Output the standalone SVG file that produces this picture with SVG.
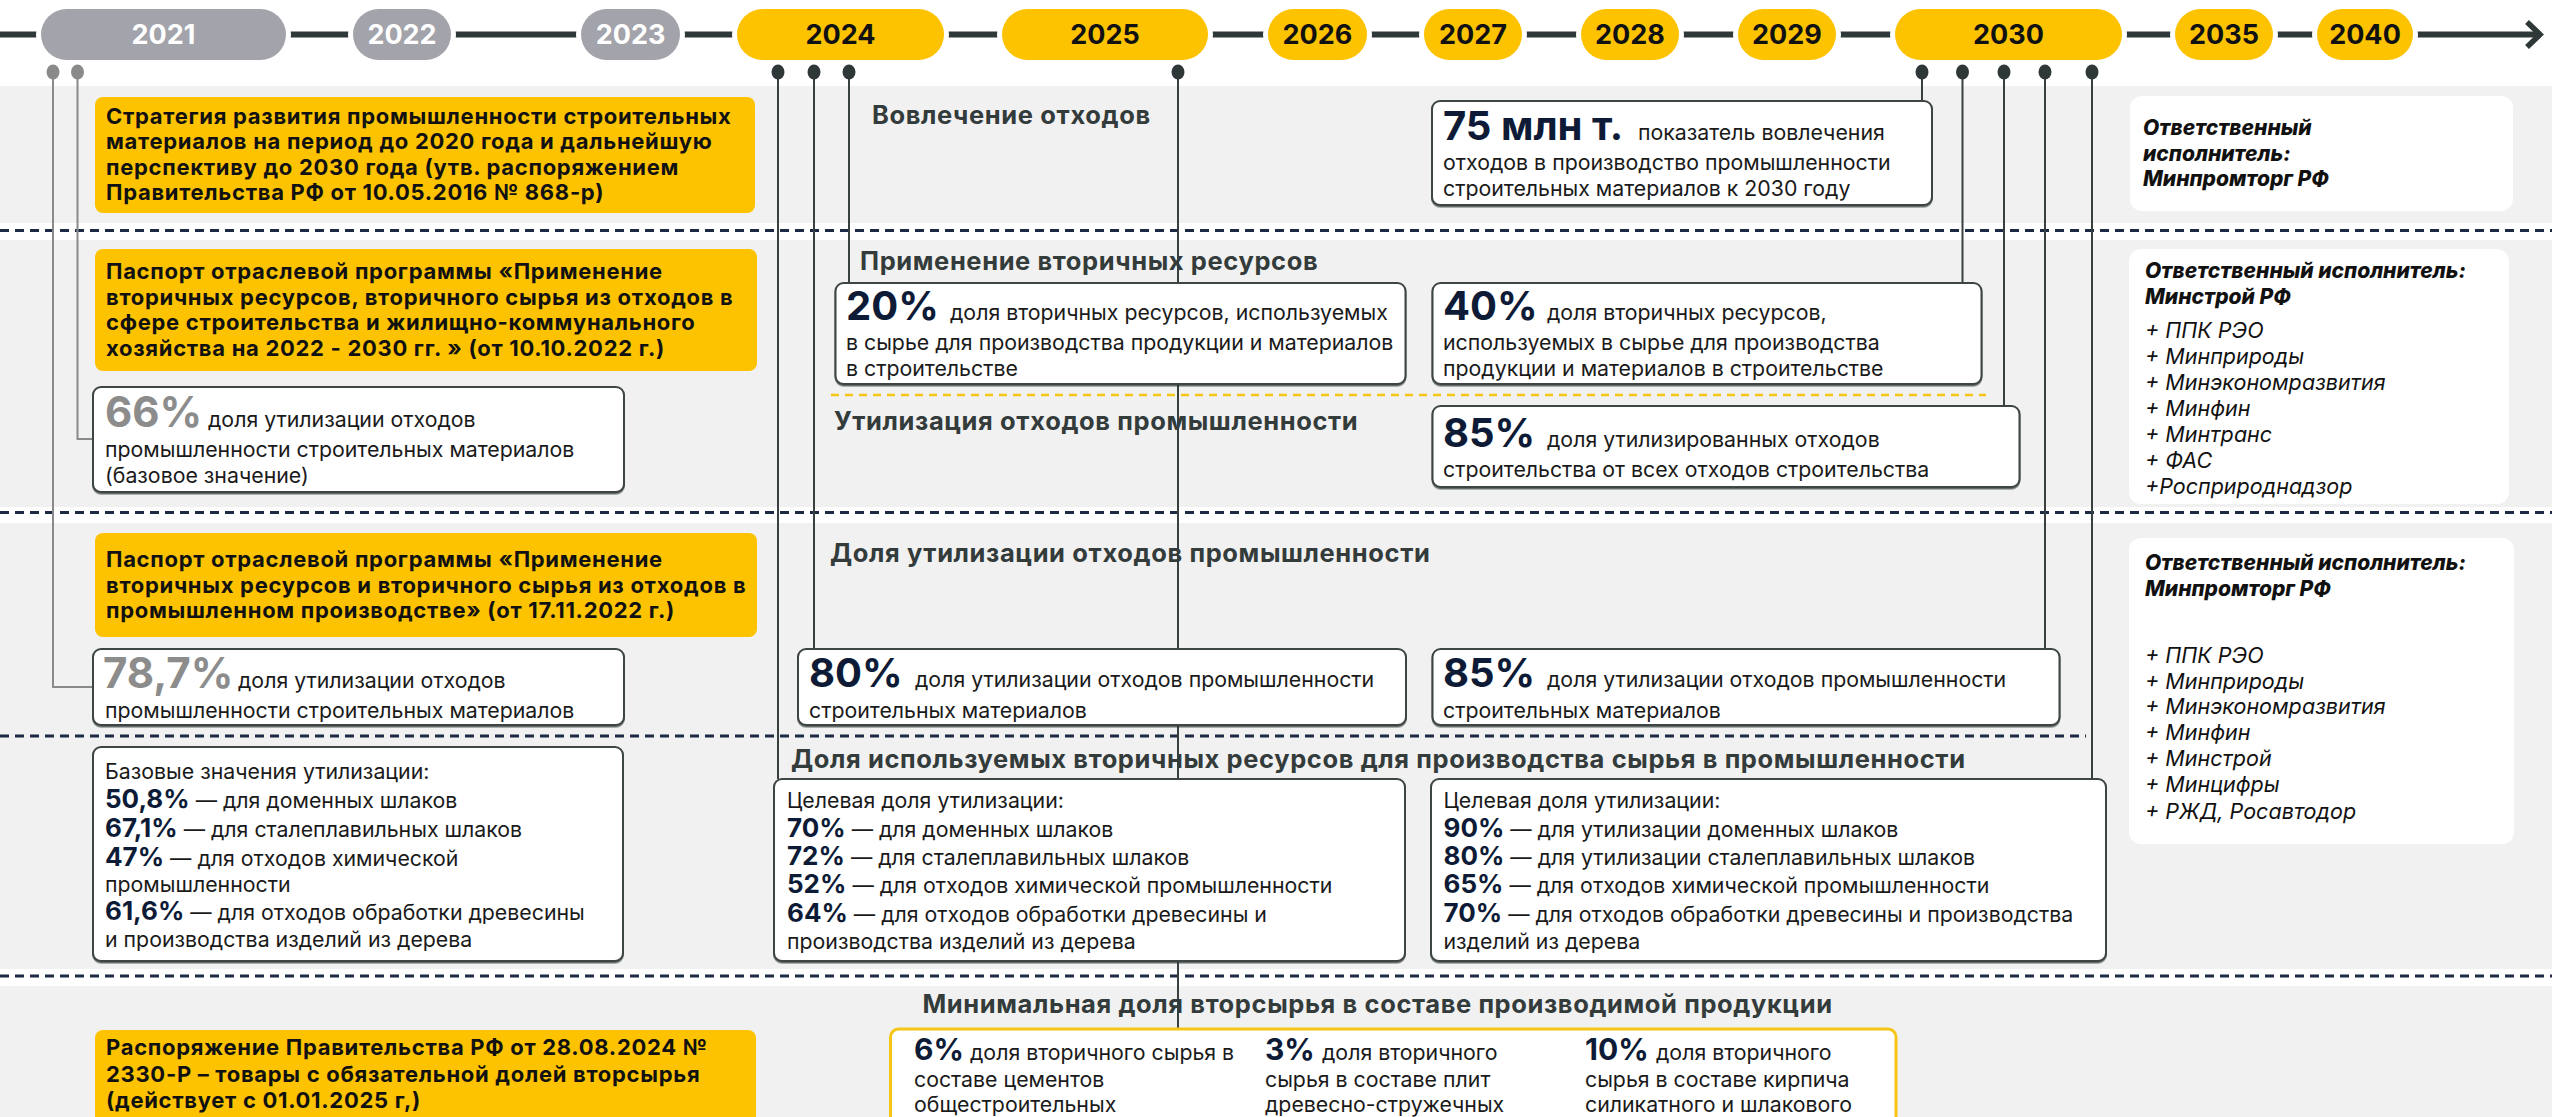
<svg xmlns="http://www.w3.org/2000/svg" width="2552" height="1117" viewBox="0 0 2552 1117">
<defs>
<filter id="sh" x="-5%" y="-5%" width="110%" height="120%">
<feDropShadow dx="0" dy="1.5" stdDeviation="0.6" flood-color="#2a3030" flood-opacity="0.7"/>
</filter>
</defs>
<style>
text{font-family:Inter,"Noto Sans",sans-serif}
.yr{font-size:27px;font-weight:700;text-anchor:middle}
.yw{fill:#fff}.yk{fill:#111}
.pg{fill:#a3a3ab;stroke:#fff;stroke-width:10;paint-order:stroke}
.py{fill:#fdc300;stroke:#fff;stroke-width:10;paint-order:stroke}
.band{fill:#f1f1f1}
.dl{stroke:#1c2a44;stroke-width:3;stroke-dasharray:9 6;fill:none}
.ydl{stroke:#f5c518;stroke-width:2.5;stroke-dasharray:8 6;fill:none}
.cn{stroke:#394040;stroke-width:2;fill:none}
.cg{stroke:#8a8a8a;stroke-width:2;fill:none}
.dk{fill:#2f3838}.dg{fill:#8a8a8a}
.yb{fill:#fdc300}
.yt{font-size:22px;font-weight:700;fill:#111;letter-spacing:0.7px}
.wb{fill:#fff;stroke:#3d4444;stroke-width:2;filter:url(#sh)}
.mb{fill:#fff;stroke:#f5c518;stroke-width:3}
.hd{font-size:25.5px;font-weight:700;fill:#333b3b;letter-spacing:0.6px}
.t{font-size:21.3px;fill:#1a1a1a}
.big{font-size:40px;font-weight:700;fill:#0d1b36}
.gb{font-size:42px;font-weight:700;fill:#8c8c8c}
.num{font-size:26px;font-weight:700;fill:#0d1b36}
.n30{font-size:30px;font-weight:700;fill:#0d1b36}
.rpb{fill:#fff}
.rh{font-size:21px;font-weight:800;font-style:italic;fill:#111}
.ri{font-size:21.5px;font-style:italic;fill:#111}
</style>

<!-- background bands -->
<rect class="band" x="0" y="86" width="2552" height="137"/>
<rect class="band" x="0" y="240" width="2552" height="267"/>
<rect class="band" x="0" y="523" width="2552" height="446"/>
<rect class="band" x="0" y="986" width="2552" height="131"/>
<path class="dl" d="M0 230.5H2552M0 512.5H2552M0 976H2552M0 736H2086"/>
<path class="ydl" d="M831 395H1986"/>

<!-- timeline -->
<g id="timeline">
<line x1="0" y1="34.5" x2="2537" y2="34.5" stroke="#2f3838" stroke-width="6"/>
<polyline points="2527,22 2540,34.5 2527,47" fill="none" stroke="#2f3838" stroke-width="5.5" stroke-linejoin="miter"/>
<rect class="pg" x="41" y="9" width="245" height="51" rx="25.5"/><text class="yr yw" x="163.5" y="44">2021</text>
<rect class="pg" x="353" y="9" width="98" height="51" rx="25.5"/><text class="yr yw" x="402" y="44">2022</text>
<rect class="pg" x="581" y="9" width="99" height="51" rx="25.5"/><text class="yr yw" x="630.5" y="44">2023</text>
<rect class="py" x="737" y="9" width="207" height="51" rx="25.5"/><text class="yr yk" x="840.5" y="44">2024</text>
<rect class="py" x="1002" y="9" width="206" height="51" rx="25.5"/><text class="yr yk" x="1105" y="44">2025</text>
<rect class="py" x="1268" y="9" width="99" height="51" rx="25.5"/><text class="yr yk" x="1317.5" y="44">2026</text>
<rect class="py" x="1424" y="9" width="98" height="51" rx="25.5"/><text class="yr yk" x="1473" y="44">2027</text>
<rect class="py" x="1581" y="9" width="98" height="51" rx="25.5"/><text class="yr yk" x="1630" y="44">2028</text>
<rect class="py" x="1738" y="9" width="98" height="51" rx="25.5"/><text class="yr yk" x="1787" y="44">2029</text>
<rect class="py" x="1895" y="9" width="227" height="51" rx="25.5"/><text class="yr yk" x="2008.5" y="44">2030</text>
<rect class="py" x="2175" y="9" width="98" height="51" rx="25.5"/><text class="yr yk" x="2224" y="44">2035</text>
<rect class="py" x="2317" y="9" width="96" height="51" rx="25.5"/><text class="yr yk" x="2365" y="44">2040</text>
</g>

<!-- connectors -->
<g id="connectors">
<path class="cg" d="M53 72V687H93M77.5 72V439H93"/>
<path class="cn" d="M778 72V779M814 72V649M849 72V283M1178 72V1029M1922 72V101M1962.5 72V283M2004 72V406M2045 72V649M2092 72V779"/>
<ellipse class="dg" cx="53" cy="72" rx="6.5" ry="7.5"/>
<ellipse class="dg" cx="77.5" cy="72" rx="6.5" ry="7.5"/>
<ellipse class="dk" cx="778" cy="72" rx="6.5" ry="7.5"/>
<ellipse class="dk" cx="814" cy="72" rx="6.5" ry="7.5"/>
<ellipse class="dk" cx="849" cy="72" rx="6.5" ry="7.5"/>
<ellipse class="dk" cx="1178" cy="72" rx="6.5" ry="7.5"/>
<ellipse class="dk" cx="1922" cy="72" rx="6.5" ry="7.5"/>
<ellipse class="dk" cx="1962.5" cy="72" rx="6.5" ry="7.5"/>
<ellipse class="dk" cx="2004" cy="72" rx="6.5" ry="7.5"/>
<ellipse class="dk" cx="2045" cy="72" rx="6.5" ry="7.5"/>
<ellipse class="dk" cx="2092" cy="72" rx="6.5" ry="7.5"/>
</g>

<!-- left column -->
<g id="doc-strategy">
<rect class="yb" x="95" y="97" width="660" height="116" rx="8"/>
<text class="yt" x="106" y="124">Стратегия развития промышленности строительных</text>
<text class="yt" x="106" y="149">материалов на период до 2020 года и дальнейшую</text>
<text class="yt" x="106" y="174.5">перспективу до 2030 года (утв. распоряжением</text>
<text class="yt" x="106" y="200">Правительства РФ от 10.05.2016 № 868-р)</text>
</g>
<g id="doc-passport-construction">
<rect class="yb" x="95" y="249" width="662" height="122" rx="8"/>
<text class="yt" x="106" y="279">Паспорт отраслевой программы «Применение</text>
<text class="yt" x="106" y="305">вторичных ресурсов, вторичного сырья из отходов в</text>
<text class="yt" x="106" y="330">сфере строительства и жилищно-коммунального</text>
<text class="yt" x="106" y="356">хозяйства на 2022 - 2030 гг. » (от 10.10.2022 г.)</text>
</g>
<g id="base-66">
<rect class="wb" x="93" y="387" width="531" height="105" rx="8"/>
<text class="gb" x="105" y="427">66%</text>
<text class="t" x="208" y="427">доля утилизации отходов</text>
<text class="t" x="105" y="457">промышленности строительных материалов</text>
<text class="t" x="105" y="483">(базовое значение)</text>
</g>
<g id="doc-passport-industry">
<rect class="yb" x="95" y="533" width="662" height="104" rx="8"/>
<text class="yt" x="106" y="567">Паспорт отраслевой программы «Применение</text>
<text class="yt" x="106" y="593">вторичных ресурсов и вторичного сырья из отходов в</text>
<text class="yt" x="106" y="618">промышленном производстве» (от 17.11.2022 г.)</text>
</g>
<g id="base-787">
<rect class="wb" x="93" y="649" width="531" height="76" rx="8"/>
<text class="gb" x="103" y="688">78,7%</text>
<text class="t" x="238" y="688">доля утилизации отходов</text>
<text class="t" x="105" y="718">промышленности строительных материалов</text>
</g>
<g id="base-values">
<rect class="wb" x="93" y="747" width="530" height="214" rx="8"/>
<text class="t" x="105" y="779">Базовые значения утилизации:</text>
<text class="t" x="105" y="808"><tspan class="num">50,8%</tspan> — для доменных шлаков</text>
<text class="t" x="105" y="837"><tspan class="num">67,1%</tspan> — для сталеплавильных шлаков</text>
<text class="t" x="105" y="866"><tspan class="num">47%</tspan> — для отходов химической</text>
<text class="t" x="105" y="892">промышленности</text>
<text class="t" x="105" y="920"><tspan class="num">61,6%</tspan> — для отходов обработки древесины</text>
<text class="t" x="105" y="947">и производства изделий из дерева</text>
</g>
<g id="doc-decree">
<rect class="yb" x="95" y="1030" width="661" height="110" rx="8"/>
<text class="yt" x="106" y="1055">Распоряжение Правительства РФ от 28.08.2024 №</text>
<text class="yt" x="106" y="1081.5">2330-Р – товары с обязательной долей вторсырья</text>
<text class="yt" x="106" y="1108">(действует с 01.01.2025 г,)</text>
</g>

<!-- middle: headings -->
<g id="headings">
<text class="hd" x="872" y="124">Вовлечение отходов</text>
<text class="hd" x="860" y="270">Применение вторичных ресурсов</text>
<text class="hd" x="834" y="430">Утилизация отходов промышленности</text>
<text class="hd" x="830" y="562">Доля утилизации отходов промышленности</text>
<text class="hd" x="791" y="768">Доля используемых вторичных ресурсов для производства сырья в промышленности</text>
<text class="hd" x="922.5" y="1013">Минимальная доля вторсырья в составе производимой продукции</text>
</g>

<g id="target-75">
<rect class="wb" x="1432" y="101" width="500" height="104" rx="8"/>
<text class="big" x="1443" y="140">75 млн т.</text>
<text class="t" x="1638" y="140">показатель вовлечения</text>
<text class="t" x="1443" y="170">отходов в производство промышленности</text>
<text class="t" x="1443" y="196">строительных материалов к 2030 году</text>
</g>
<g id="target-20">
<rect class="wb" x="835.5" y="283" width="570" height="101" rx="8"/>
<text class="big" x="846" y="320">20%</text>
<text class="t" x="950" y="320">доля вторичных ресурсов, используемых</text>
<text class="t" x="846" y="350">в сырье для производства продукции и материалов</text>
<text class="t" x="846" y="376">в строительстве</text>
</g>
<g id="target-40">
<rect class="wb" x="1432.5" y="283" width="549" height="101" rx="8"/>
<text class="big" x="1443" y="320">40%</text>
<text class="t" x="1547" y="320">доля вторичных ресурсов,</text>
<text class="t" x="1443" y="350">используемых в сырье для производства</text>
<text class="t" x="1443" y="376">продукции и материалов в строительстве</text>
</g>
<g id="target-85a">
<rect class="wb" x="1432.5" y="406" width="587" height="81" rx="8"/>
<text class="big" x="1443" y="447">85%</text>
<text class="t" x="1547" y="447">доля утилизированных отходов</text>
<text class="t" x="1443" y="477">строительства от всех отходов строительства</text>
</g>
<g id="target-80">
<rect class="wb" x="798" y="649" width="608" height="76" rx="8"/>
<text class="big" x="809" y="687">80%</text>
<text class="t" x="915" y="687">доля утилизации отходов промышленности</text>
<text class="t" x="809" y="718">строительных материалов</text>
</g>
<g id="target-85b">
<rect class="wb" x="1432.5" y="649" width="627" height="76" rx="8"/>
<text class="big" x="1443" y="687">85%</text>
<text class="t" x="1547" y="687">доля утилизации отходов промышленности</text>
<text class="t" x="1443" y="718">строительных материалов</text>
</g>
<g id="target-2024">
<rect class="wb" x="774" y="779" width="631" height="182" rx="8"/>
<text class="t" x="787" y="808">Целевая доля утилизации:</text>
<text class="t" x="787" y="837"><tspan class="num">70%</tspan> — для доменных шлаков</text>
<text class="t" x="787" y="865"><tspan class="num">72%</tspan> — для сталеплавильных шлаков</text>
<text class="t" x="787" y="893"><tspan class="num">52%</tspan> — для отходов химической промышленности</text>
<text class="t" x="787" y="922"><tspan class="num">64%</tspan> — для отходов обработки древесины и</text>
<text class="t" x="787" y="949">производства изделий из дерева</text>
</g>
<g id="target-2030">
<rect class="wb" x="1431" y="779" width="675" height="182" rx="8"/>
<text class="t" x="1443.5" y="808">Целевая доля утилизации:</text>
<text class="t" x="1443.5" y="837"><tspan class="num">90%</tspan> — для утилизации доменных шлаков</text>
<text class="t" x="1443.5" y="865"><tspan class="num">80%</tspan> — для утилизации сталеплавильных шлаков</text>
<text class="t" x="1443.5" y="893"><tspan class="num">65%</tspan> — для отходов химической промышленности</text>
<text class="t" x="1443.5" y="922"><tspan class="num">70%</tspan> — для отходов обработки древесины и производства</text>
<text class="t" x="1443.5" y="949">изделий из дерева</text>
</g>
<g id="min-share">
<rect class="mb" x="890.5" y="1029" width="1005.5" height="120" rx="8"/>
<text class="n30" x="914" y="1060">6%</text>
<text class="t" x="970" y="1060">доля вторичного сырья в</text>
<text class="t" x="914" y="1087">составе цементов</text>
<text class="t" x="914" y="1112">общестроительных</text>
<text class="n30" x="1265" y="1060">3%</text>
<text class="t" x="1322" y="1060">доля вторичного</text>
<text class="t" x="1265" y="1087">сырья в составе плит</text>
<text class="t" x="1265" y="1112">древесно-стружечных</text>
<text class="n30" x="1585" y="1060">10%</text>
<text class="t" x="1656" y="1060">доля вторичного</text>
<text class="t" x="1585" y="1087">сырья в составе кирпича</text>
<text class="t" x="1585" y="1112">силикатного и шлакового</text>
</g>

<!-- right panels -->
<g id="resp-1">
<rect class="rpb" x="2130" y="96" width="383" height="115" rx="12"/>
<text class="rh" x="2143" y="135">Ответственный</text>
<text class="rh" x="2143" y="161">исполнитель:</text>
<text class="rh" x="2143" y="186">Минпромторг РФ</text>
</g>
<g id="resp-2">
<rect class="rpb" x="2129" y="249" width="380" height="255" rx="12"/>
<text class="rh" x="2145" y="278">Ответственный исполнитель:</text>
<text class="rh" x="2145" y="304">Минстрой РФ</text>
<text class="ri" x="2145" y="338">+ ППК РЭО</text>
<text class="ri" x="2145" y="364">+ Минприроды</text>
<text class="ri" x="2145" y="390">+ Минэкономразвития</text>
<text class="ri" x="2145" y="416">+ Минфин</text>
<text class="ri" x="2145" y="442">+ Минтранс</text>
<text class="ri" x="2145" y="468">+ ФАС</text>
<text class="ri" x="2145" y="494">+Росприроднадзор</text>
</g>
<g id="resp-3">
<rect class="rpb" x="2129" y="538" width="385" height="306" rx="12"/>
<text class="rh" x="2145" y="570">Ответственный исполнитель:</text>
<text class="rh" x="2145" y="596">Минпромторг РФ</text>
<text class="ri" x="2145" y="663">+ ППК РЭО</text>
<text class="ri" x="2145" y="688.5">+ Минприроды</text>
<text class="ri" x="2145" y="714">+ Минэкономразвития</text>
<text class="ri" x="2145" y="740">+ Минфин</text>
<text class="ri" x="2145" y="766">+ Минстрой</text>
<text class="ri" x="2145" y="791.5">+ Минцифры</text>
<text class="ri" x="2145" y="818.5">+ РЖД, Росавтодор</text>
</g>
</svg>
